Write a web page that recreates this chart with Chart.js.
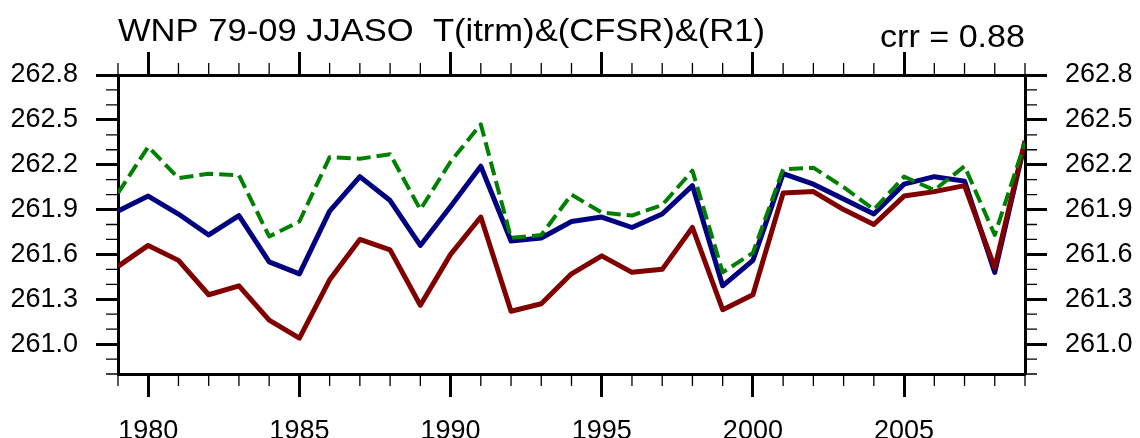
<!DOCTYPE html>
<html>
<head>
<meta charset="utf-8">
<script src="https://cdn.jsdelivr.net/npm/chart.js@4"></script>
<style>
  html, body { margin: 0; padding: 0; background: #fff; }
  canvas { display: block; }
</style>
</head>
<body>
<canvas id="serieWnp" width="1140" height="438"></canvas>
<script>
"use strict";

const years = [1979, 1980, 1981, 1982, 1983, 1984, 1985, 1986, 1987, 1988,
    1989, 1990, 1991, 1992, 1993, 1994, 1995, 1996, 1997, 1998,
    1999, 2000, 2001, 2002, 2003, 2004, 2005, 2006, 2007, 2008, 2009];

const tItrm = [261.89, 261.99, 261.87, 261.73, 261.86, 261.55, 261.47, 261.89, 262.12, 261.96,
    261.66, 261.92, 262.19, 261.69, 261.71, 261.82, 261.85, 261.78, 261.87, 262.06,
    261.39, 261.56, 262.14, 262.07, 261.97, 261.87, 262.07, 262.12, 262.09, 261.48, 262.35];

const tCfsr = [262.01, 262.32, 262.11, 262.14, 262.13, 261.72, 261.82, 262.25, 262.24, 262.27,
    261.90, 262.22, 262.47, 261.71, 261.73, 262.00, 261.88, 261.86, 261.93, 262.16,
    261.48, 261.61, 262.17, 262.18, 262.05, 261.90, 262.12, 262.03, 262.19, 261.73, 262.35];

const tR1 = [261.52, 261.66, 261.56, 261.33, 261.39, 261.16, 261.04, 261.43, 261.70, 261.63,
    261.26, 261.60, 261.85, 261.22, 261.27, 261.47, 261.59, 261.48, 261.50, 261.78,
    261.23, 261.33, 262.01, 262.02, 261.90, 261.80, 261.99, 262.02, 262.06, 261.51, 262.36];

const xMajorTicks = [1980, 1985, 1990, 1995, 2000, 2005];
const yMajorTicks = [261.0, 261.3, 261.6, 261.9, 262.2, 262.5, 262.8];
const yMinorTicks = [260.8, 260.9, 261.1, 261.2, 261.4, 261.5, 261.7, 261.8,
    262.0, 262.1, 262.3, 262.4, 262.6, 262.7];

const titulo = "WNP 79-09 JJASO  T(itrm)&(CFSR)&(R1)";
const correlacion = "crr = 0.88";

Chart.defaults.font.family = '"Liberation Sans", Arial, Helvetica, sans-serif';
Chart.defaults.color = "#000";

const pares = (serie) => serie.map((v, i) => ({ x: years[i], y: v }));

/**
 * Ticks menores y textos del encabezado
 */
const extrasPlugin = {
    id: "extras",
    beforeDraw(chart) {
        const { ctx } = chart;
        ctx.save();
        ctx.fillStyle = "#fff";
        ctx.fillRect(0, 0, chart.width, chart.height);
        ctx.restore();
    },
    afterDraw(chart) {
        const { ctx, chartArea } = chart;
        const sx = chart.scales.x;
        const sy = chart.scales.y;
        ctx.save();
        ctx.strokeStyle = "#000";
        ctx.lineWidth = 1.3;
        ctx.beginPath();
        years.forEach((yr) => {
            if (xMajorTicks.includes(yr)) return;
            const px = sx.getPixelForValue(yr);
            ctx.moveTo(px, chartArea.bottom);
            ctx.lineTo(px, chartArea.bottom + 12);
            ctx.moveTo(px, chartArea.top);
            ctx.lineTo(px, chartArea.top - 12);
        });
        yMinorTicks.forEach((v) => {
            const py = sy.getPixelForValue(v);
            ctx.moveTo(chartArea.left, py);
            ctx.lineTo(chartArea.left - 12, py);
            ctx.moveTo(chartArea.right, py);
            ctx.lineTo(chartArea.right + 12, py);
        });
        ctx.stroke();

        ctx.fillStyle = "#000";
        ctx.textBaseline = "alphabetic";
        ctx.font = '32px "Liberation Sans", Arial, sans-serif';
        const w1 = ctx.measureText(titulo).width;
        ctx.save();
        ctx.translate(chartArea.left, 41);
        ctx.scale(647 / w1, 1);
        ctx.textAlign = "left";
        ctx.fillText(titulo, 0, 0);
        ctx.restore();

        const w2 = ctx.measureText(correlacion).width;
        ctx.save();
        ctx.translate(chartArea.right, 47);
        ctx.scale(145 / w2, 1);
        ctx.textAlign = "right";
        ctx.fillText(correlacion, 0, 0);
        ctx.restore();
        ctx.restore();
    },
};

const ejeX = (pos, alto, etiquetas) => ({
    type: "linear",
    position: pos,
    min: 1979,
    max: 2009,
    afterBuildTicks: (s) => { s.ticks = xMajorTicks.map((v) => ({ value: v })); },
    afterFit: (s) => { s.height = alto; },
    grid: {
        drawOnChartArea: false,
        drawTicks: true,
        tickLength: 23,
        tickWidth: 3,
        tickColor: "#000",
    },
    border: { display: true, width: 3, color: "#000" },
    ticks: {
        display: etiquetas,
        autoSkip: false,
        maxRotation: 0,
        padding: 18,
        font: { size: 27 },
        color: "#000",
        callback: (v) => String(v),
    },
});

const ejeY = (pos, ancho) => ({
    type: "linear",
    position: pos,
    min: 260.8,
    max: 262.8,
    afterBuildTicks: (s) => { s.ticks = yMajorTicks.map((v) => ({ value: v })); },
    afterFit: (s) => { s.width = ancho; },
    grid: {
        drawOnChartArea: false,
        drawTicks: true,
        tickLength: 22,
        tickWidth: 3,
        tickColor: "#000",
    },
    border: { display: true, width: 3, color: "#000" },
    ticks: {
        padding: 18,
        font: { size: 27 },
        color: "#000",
        callback: (v) => Number(v).toFixed(1),
    },
});

new Chart(document.querySelector("#serieWnp"), {
    type: "line",
    data: {
        datasets: [
            {
                label: "CFSR",
                data: pares(tCfsr),
                borderColor: "#008000",
                borderWidth: 4,
                borderDash: [14, 6],
                xAxisID: "x",
                yAxisID: "y",
            },
            {
                label: "R1",
                data: pares(tR1),
                borderColor: "#800000",
                borderWidth: 5,
                xAxisID: "x",
                yAxisID: "y",
            },
            {
                label: "itrm",
                data: pares(tItrm),
                borderColor: "#000080",
                borderWidth: 5,
                xAxisID: "x",
                yAxisID: "y",
            },
        ],
    },
    options: {
        responsive: false,
        animation: false,
        layout: { padding: 0 },
        elements: {
            point: { radius: 0 },
            line: { tension: 0, borderJoinStyle: "round", fill: false },
        },
        plugins: {
            legend: { display: false },
            tooltip: { enabled: false },
            title: { display: false },
        },
        scales: {
            x: ejeX("bottom", 64, true),
            x2: ejeX("top", 75, false),
            y: ejeY("left", 118),
            y2: ejeY("right", 115),
        },
    },
    plugins: [extrasPlugin],
});
</script>
</body>
</html>
